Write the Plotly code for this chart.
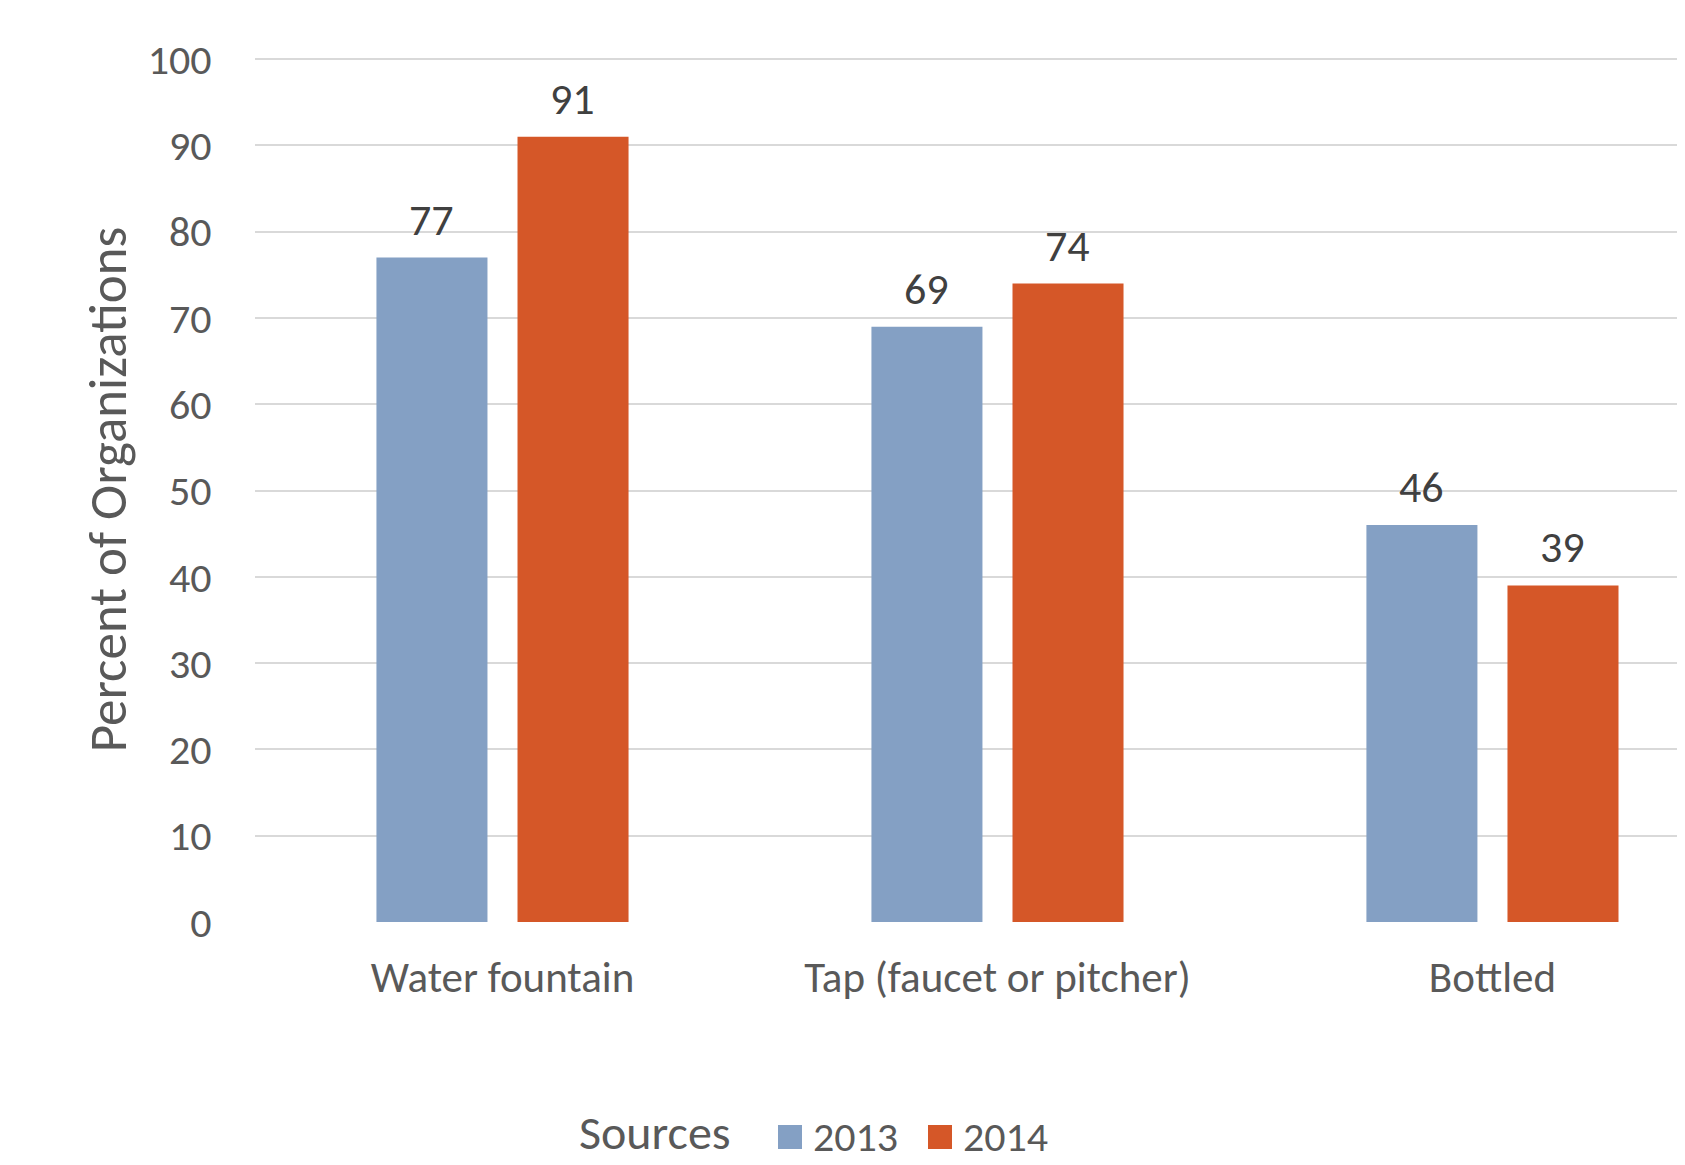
import plotly.graph_objects as go

categories = ["Water fountain", "Tap (faucet or pitcher)", "Bottled"]
values_2013 = [77, 69, 46]
values_2014 = [91, 74, 39]
series_names = ["2013", "2014"]
legend_title = "Sources"
y_ticks = [0, 10, 20, 30, 40, 50, 60, 70, 80, 90, 100]

FONT = "Carlito, Lato, sans-serif"
blue = "#84A0C4"
orange = "#D55728"
colors = [blue, orange]

# the page body adds an 8px margin; compensate so the picture lines up
OFF = 8
W, H = 1685 - OFF, 1165 - OFF
ML, MR, MT, MB = 255 - OFF, 0, 57 - OFF, 243
PW, PH = W - ML - MR, H - MT - MB


def px_to_paper(x, y):
    # x, y given in window pixels
    return (x - OFF - ML) / PW, (H - MB - (y - OFF)) / PH


fig = go.Figure()
fig.add_trace(go.Bar(x=categories, y=values_2013, name=series_names[0], marker_color=blue,
                     marker_line_width=0, showlegend=False))
fig.add_trace(go.Bar(x=categories, y=values_2014, name=series_names[1], marker_color=orange,
                     marker_line_width=0, showlegend=False))

# data labels
for vals, shift in ((values_2013, -70.5), (values_2014, 70.5)):
    for c, v in zip(categories, vals):
        fig.add_annotation(x=c, y=v, text=str(v), showarrow=False, xshift=shift,
                           yanchor="bottom", yshift=9,
                           font=dict(family=FONT, size=44, color="#404040"))

# manual legend (larger squares as in reference)
ly = 1137
tx, ty = px_to_paper(577, 1164)
fig.add_annotation(xref="paper", yref="paper", x=tx, y=ty, text=legend_title, showarrow=False,
                   xanchor="left", yanchor="bottom",
                   font=dict(family=FONT, size=48, color="#595959"))
for name, col, sq_x in zip(series_names, colors, (778, 928)):
    x0, y0 = px_to_paper(sq_x, ly + 12)
    x1, y1 = px_to_paper(sq_x + 24, ly - 12)
    fig.add_shape(type="rect", xref="paper", yref="paper", x0=x0, x1=x1, y0=y0, y1=y1,
                  fillcolor=col, line_width=0)
    lx, lyp = px_to_paper(sq_x + 33, ly - 1)
    fig.add_annotation(xref="paper", yref="paper", x=lx, y=lyp, text=name, showarrow=False,
                       xanchor="left", yanchor="middle",
                       font=dict(family=FONT, size=42, color="#595959"))

fig.update_layout(
    width=W, height=H,
    margin=dict(l=ML, r=MR, t=MT, b=MB),
    paper_bgcolor="white", plot_bgcolor="white",
    barmode="group", bargap=0.43, bargroupgap=0.213,
    font=dict(family=FONT, color="#595959"),
    showlegend=False,
)
fig.update_xaxes(range=[-0.5, 2.389], showgrid=False, zeroline=False, showline=False,
                 automargin=False,
                 ticks="outside", ticklen=17, tickcolor="rgba(0,0,0,0)",
                 tickfont=dict(family=FONT, size=43, color="#595959"))
fig.update_yaxes(range=[0, 100.25], tickvals=y_ticks, showgrid=True, gridcolor="#D9D9D9",
                 gridwidth=2, zeroline=False, showline=False, automargin=False,
                 ticks="outside", ticklen=34, tickcolor="rgba(0,0,0,0)",
                 tickfont=dict(family=FONT, size=42, color="#595959"),
                 title=dict(text="Percent of Organizations", standoff=4,
                            font=dict(family=FONT, size=53, color="#595959")))

fig.write_html("out.html")
